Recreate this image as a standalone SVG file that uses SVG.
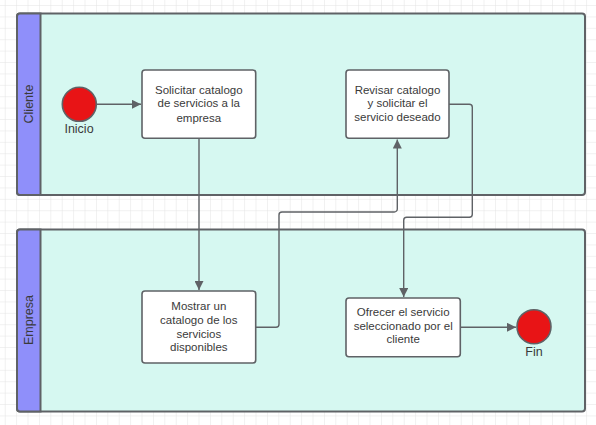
<svg xmlns="http://www.w3.org/2000/svg" width="596" height="425" viewBox="0 0 596 425">
<style>
.pool{fill:#d6f8f1;stroke:#5f6266;stroke-width:2}
.hdr{fill:#8f8ffa;stroke:#5f6266;stroke-width:2}
.box{fill:#ffffff;stroke:#5f6266;stroke-width:1.6}
.ev{fill:#e81416;stroke:#5f6266;stroke-width:1.6}
.t{font-family:"Liberation Sans",Arial,sans-serif;font-size:11.5px;fill:#3a3a3a;text-anchor:middle}
.lbl{font-family:"Liberation Sans",Arial,sans-serif;font-size:12.5px;fill:#3a3a3a;text-anchor:middle}
.c{fill:none;stroke:#5f6266;stroke-width:1.4}
</style>
<defs>
<pattern id="grid" x="5.7" y="6" width="11.4" height="11.4" patternUnits="userSpaceOnUse">
<path d="M11.4 0V11.4M0 11.4H11.4" fill="none" stroke="#e3e3e3" stroke-width="1"/>
</pattern>
<marker id="arr" viewBox="0 0 10 10" refX="10" refY="5" markerWidth="9" markerHeight="9" markerUnits="userSpaceOnUse" orient="auto">
<path d="M0 0L10 5L0 10z" fill="#5f6266"/>
</marker>
</defs>
<rect width="596" height="425" fill="#ffffff"/>
<rect width="596" height="425" fill="url(#grid)"/>
<g id="pool-cliente">
<rect class="pool" x="17" y="13.5" width="568" height="181.5" rx="3"/>
<path class="hdr" d="M40.5 13.5H20a3 3 0 0 0-3 3V192a3 3 0 0 0 3 3H40.5Z"/>
<text class="lbl" transform="translate(33,104) rotate(-90)">Cliente</text>
</g>
<g id="pool-empresa">
<rect class="pool" x="17" y="229.5" width="568" height="182" rx="3"/>
<path class="hdr" d="M40.5 229.5H20a3 3 0 0 0-3 3V408.5a3 3 0 0 0 3 3H40.5Z"/>
<text class="lbl" transform="translate(33,320) rotate(-90)">Empresa</text>
</g>
<g id="connectors">
<path class="c" d="M97 104.3H141" marker-end="url(#arr)"/>
<path class="c" d="M199 138.3V290" marker-end="url(#arr)"/>
<path class="c" d="M255.7 327.3H276a3 3 0 0 0 3-3V215a3 3 0 0 1 3-3H394.3a3 3 0 0 0 3-3V139.5" marker-end="url(#arr)"/>
<path class="c" d="M449 104.3H469.3a3 3 0 0 1 3 3V214.3a3 3 0 0 1-3 3H406.7a3 3 0 0 0-3 3V297" marker-end="url(#arr)"/>
<path class="c" d="M460.3 327.3H516" marker-end="url(#arr)"/>
</g>
<g id="inicio">
<circle class="ev" cx="79.3" cy="104.3" r="17"/>
<text class="lbl" x="79" y="133">Inicio</text>
</g>
<g id="solicitar">
<rect class="box" x="142" y="70" width="113.7" height="68.3" rx="3"/>
<text class="t" x="198.8" y="93.5">Solicitar catalogo</text>
<text class="t" x="198.8" y="107">de servicios a la</text>
<text class="t" x="198.8" y="121.5">empresa</text>
</g>
<g id="revisar">
<rect class="box" x="346" y="70" width="103" height="68.3" rx="3"/>
<text class="t" x="397.5" y="93.5">Revisar catalogo</text>
<text class="t" x="397.5" y="107">y solicitar el</text>
<text class="t" x="397.5" y="121.3">servicio deseado</text>
</g>
<g id="mostrar">
<rect class="box" x="142" y="291" width="113.7" height="72" rx="3"/>
<text class="t" x="198.8" y="310">Mostrar un</text>
<text class="t" x="198.8" y="324.2">catalogo de los</text>
<text class="t" x="198.8" y="337.5">servicios</text>
<text class="t" x="198.8" y="350.5">disponibles</text>
</g>
<g id="ofrecer">
<rect class="box" x="346" y="298" width="114.3" height="58.7" rx="3"/>
<text class="t" x="403.2" y="316">Ofrecer el servicio</text>
<text class="t" x="403.2" y="329.5">seleccionado por el</text>
<text class="t" x="403.2" y="343.2">cliente</text>
</g>
<g id="fin">
<circle class="ev" cx="534" cy="326.7" r="17"/>
<text class="lbl" x="534" y="355.5">Fin</text>
</g>
</svg>
